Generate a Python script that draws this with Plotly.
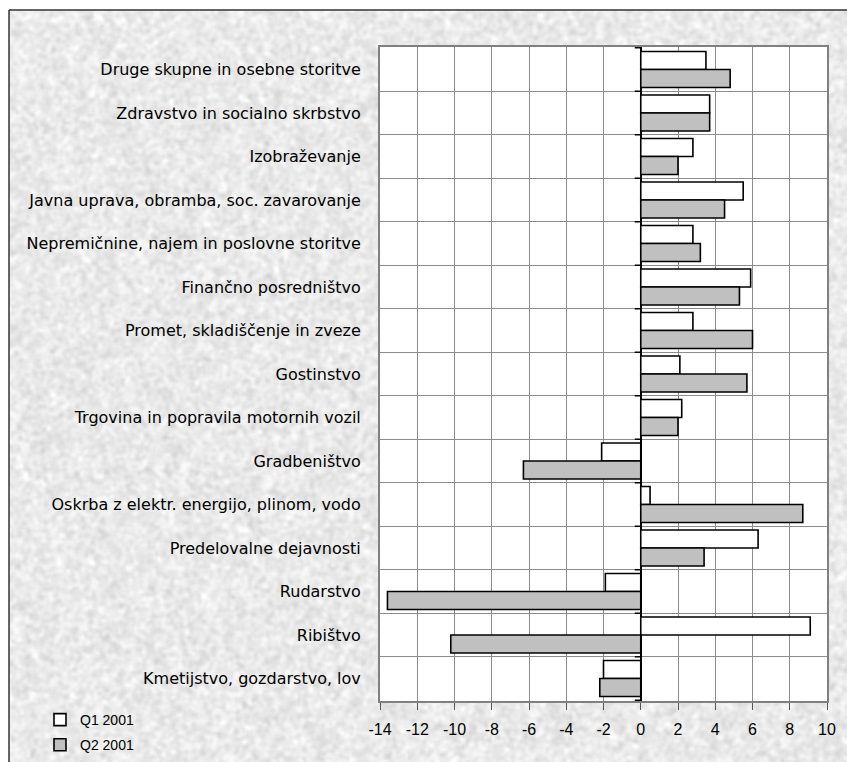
import base64
import struct
import zlib

import numpy as np
import plotly.graph_objects as go

# Activity sectors, listed top to bottom
sectors = [
    "Druge skupne in osebne storitve",
    "Zdravstvo in socialno skrbstvo",
    "Izobraževanje",
    "Javna uprava, obramba, soc. zavarovanje",
    "Nepremičnine, najem in poslovne storitve",
    "Finančno posredništvo",
    "Promet, skladiščenje in zveze",
    "Gostinstvo",
    "Trgovina in popravila motornih vozil",
    "Gradbeništvo",
    "Oskrba z elektr. energijo, plinom, vodo",
    "Predelovalne dejavnosti",
    "Rudarstvo",
    "Ribištvo",
    "Kmetijstvo, gozdarstvo, lov",
]

q1_2001 = [3.5, 3.7, 2.8, 5.5, 2.8, 5.9, 2.8, 2.1, 2.2, -2.1, 0.5, 6.3, -1.9, 9.1, -2.0]
q2_2001 = [4.8, 3.7, 2.0, 4.5, 3.2, 5.3, 6.0, 5.7, 2.0, -6.3, 8.7, 3.4, -13.6, -10.2, -2.2]

x_ticks = [-14, -12, -10, -8, -6, -4, -2, 0, 2, 4, 6, 8, 10]

W, H = 847, 762
ML, MR, MT, MB = 380, 20, 47, 61
PW, PH = W - ML - MR, H - MT - MB


def box_blur(a, r):
    k = 2 * r + 1
    p = np.pad(a, r, mode="wrap")
    c = np.pad(p.cumsum(0).cumsum(1), ((1, 0), (1, 0)))
    return (c[k:, k:] - c[:-k, k:] - c[k:, :-k] + c[:-k, :-k]) / (k * k)


def hash_noise(xx, yy, sx, sy):
    v = np.sin(xx * sx + yy * sy) * 43758.5453
    return v - np.floor(v)


def granite_png(w, h):
    """Soft light-grey granite backdrop, encoded as a greyscale PNG data URI."""
    yy, xx = np.mgrid[0:h, 0:w].astype(float)
    n1 = hash_noise(xx, yy, 12.9898, 78.233)
    n2 = hash_noise(xx + 3.1, yy + 7.7, 39.3467, 11.135)
    tex = 234 + 115 * (box_blur(n1, 2) - 0.5) + 90 * (box_blur(n2, 4) - 0.5)
    tex = box_blur(tex, 1)
    img = np.clip(tex, 204, 253).astype(np.uint8)
    raw = b"".join(b"\x00" + img[i].tobytes() for i in range(h))

    def chunk(tag, data):
        return struct.pack(">I", len(data)) + tag + data + struct.pack(">I", zlib.crc32(tag + data) & 0xFFFFFFFF)

    ihdr = struct.pack(">IIBBBBB", w, h, 8, 0, 0, 0, 0)
    png = b"\x89PNG\r\n\x1a\n" + chunk(b"IHDR", ihdr) + chunk(b"IDAT", zlib.compress(raw, 9)) + chunk(b"IEND", b"")
    return "data:image/png;base64," + base64.b64encode(png).decode()


def px_x(px):
    return (px - ML) / PW


def px_y(py):
    return (H - MB - py) / PH


FRAME_X, FRAME_Y = 9, 10

fig = go.Figure()

bar_line = dict(color="black", width=1.6)
fig.add_trace(go.Bar(
    y=sectors, x=q1_2001, orientation="h", name="Q1 2001",
    marker=dict(color="white", line=bar_line), legendgroup="q1",
))
fig.add_trace(go.Bar(
    y=sectors, x=q2_2001, orientation="h", name="Q2 2001",
    marker=dict(color="#c0c0c0", line=bar_line), legendgroup="q2",
))

shapes = [
    # white plotting area over the textured backdrop
    dict(type="rect", xref="paper", yref="paper", x0=0, x1=1, y0=0, y1=1,
         fillcolor="white", line=dict(width=0), layer="below"),
    # chart frame, top and left edges
    dict(type="line", xref="paper", yref="paper",
         x0=px_x(FRAME_X), x1=px_x(W + 5), y0=px_y(FRAME_Y), y1=px_y(FRAME_Y),
         line=dict(color="#333333", width=1.5), layer="above"),
    dict(type="line", xref="paper", yref="paper",
         x0=px_x(FRAME_X), x1=px_x(FRAME_X), y0=px_y(FRAME_Y), y1=px_y(H + 5),
         line=dict(color="#333333", width=1.5), layer="above"),
]
# short category ticks on the value-zero axis
for i in range(len(sectors) + 1):
    shapes.append(dict(type="line", xref="x", yref="y", xsizemode="pixel", xanchor=0,
                       x0=-6, x1=0, y0=i - 0.5, y1=i - 0.5,
                       line=dict(color="black", width=1.5), layer="above"))

fig.update_layout(
    width=W, height=H,
    margin=dict(l=ML, r=MR, t=MT, b=MB, autoexpand=False),
    paper_bgcolor="white",
    plot_bgcolor="white",
    barmode="group",
    bargap=0.17,
    bargroupgap=0,
    showlegend=True,
    legend=dict(
        x=px_x(40), y=px_y(704), xanchor="left", yanchor="top",
        bgcolor="rgba(0,0,0,0)", traceorder="grouped", tracegroupgap=4,
        font=dict(family="Liberation Sans, Arial, sans-serif", size=14, color="black"),
    ),
    images=[dict(
        source=granite_png(W - FRAME_X, H - FRAME_Y),
        xref="paper", yref="paper",
        x=px_x(FRAME_X), y=px_y(FRAME_Y),
        sizex=(W - FRAME_X) / PW, sizey=(H - FRAME_Y) / PH,
        xanchor="left", yanchor="top", sizing="stretch", layer="below",
    )],
    shapes=shapes,
    xaxis=dict(
        range=[-14, 10], tickvals=x_ticks, ticktext=[str(v) for v in x_ticks],
        showgrid=True, gridcolor="#8c8c8c", gridwidth=1,
        zeroline=True, zerolinecolor="black", zerolinewidth=2,
        showline=True, linecolor="#808080", linewidth=2, mirror=True,
        ticks="outside", ticklen=7, tickcolor="#555555", tickwidth=1,
        ticklabelstandoff=6,
        tickfont=dict(family="Liberation Sans, Arial, sans-serif", size=16, color="black"),
        fixedrange=True,
    ),
    yaxis=dict(
        type="category", autorange="reversed",
        tickson="boundaries", showgrid=True, gridcolor="#8c8c8c", gridwidth=1,
        showline=True, linecolor="#808080", linewidth=2, mirror=True,
        ticks="", ticklabelstandoff=14,
        tickfont=dict(family="DejaVu Sans, sans-serif", size=16, color="black"),
        fixedrange=True,
    ),
)

fig.write_html("out.html")
